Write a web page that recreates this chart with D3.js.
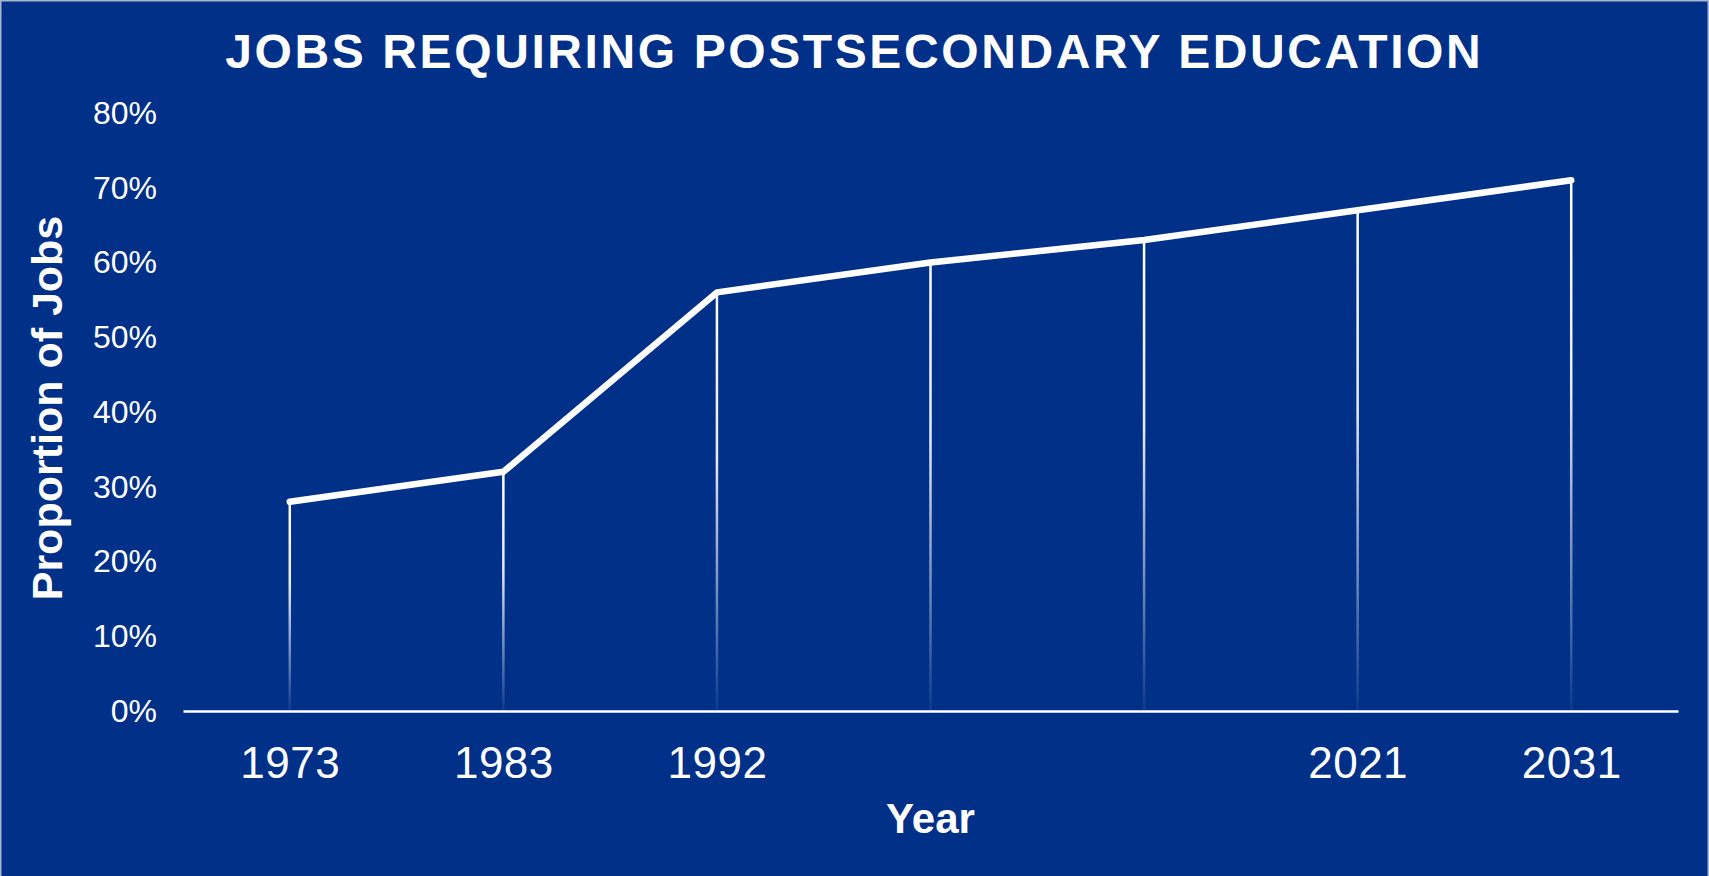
<!DOCTYPE html>
<html>
<head>
<meta charset="utf-8">
<script src="https://cdn.jsdelivr.net/npm/d3@7"></script>
<style>
  body { margin: 0; background: #003087; }
  text { font-family: "Liberation Sans", Arial, sans-serif; fill: #fff; }
</style>
</head>
<body>
<div id="chart"></div>
<script>
// Data
const years = ["1973", "1983", "1992", "2000", "2010", "2021", "2031"];
const tickLabels = ["1973", "1983", "1992", "", "", "2021", "2031"];
const shares = [0.28, 0.32, 0.56, 0.60, 0.63, 0.67, 0.71];
const yTicks = [0, 0.1, 0.2, 0.3, 0.4, 0.5, 0.6, 0.7, 0.8];

// Plot constants
const W = 1709, H = 876;
const MARGIN = {LEFT: 183, RIGHT: 31, TOP: 113, BOTTOM: 165};

const svg = d3.select("#chart")
  .append("svg")
  .attr("width", W)
  .attr("height", H);

svg.append("rect")
  .attr("width", W).attr("height", H)
  .attr("fill", "#003087");

// thin light frame (top, left, right only)
svg.append("path")
  .attr("d", "M0.75," + H + "V0.75H" + (W - 0.75) + "V" + H)
  .attr("fill", "none")
  .attr("stroke", "#aab4cc")
  .attr("stroke-width", 1.5);

// Skale
const x = d3.scalePoint()
  .domain(years)
  .range([MARGIN.LEFT, W - MARGIN.RIGHT])
  .padding(0.5);
const y = d3.scaleLinear()
  .domain([0, 0.8])
  .range([H - MARGIN.BOTTOM, MARGIN.TOP]);

// fading drop lines
const defs = svg.append("defs");
const grad = defs.append("linearGradient")
  .attr("id", "drop")
  .attr("x1", 0).attr("y1", 0).attr("x2", 0).attr("y2", 1);
grad.append("stop").attr("offset", "0%").attr("stop-color", "#fff").attr("stop-opacity", 1);
grad.append("stop").attr("offset", "40%").attr("stop-color", "#fff").attr("stop-opacity", 0.9);
grad.append("stop").attr("offset", "100%").attr("stop-color", "#fff").attr("stop-opacity", 0.05);

svg.append("g")
  .selectAll("rect")
  .data(years)
  .join("rect")
  .attr("x", (d) => x(d) - 1.25)
  .attr("y", (d, i) => y(shares[i]))
  .attr("width", 2.5)
  .attr("height", (d, i) => y(0) - y(shares[i]))
  .attr("fill", "url(#drop)");

// Y axis labels
const yAxis = svg.append("g")
  .attr("transform", "translate(157,0)")
  .call(d3.axisLeft(y).tickValues(yTicks).tickFormat(d3.format(".0%")).tickSize(0).tickPadding(0));
yAxis.select(".domain").remove();
yAxis.selectAll("text")
  .attr("fill", "#fff")
  .style("font-size", "32px")
  .style("font-family", "'Liberation Sans', Arial, sans-serif");

// X axis
const xAxis = svg.append("g")
  .attr("transform", "translate(0," + y(0) + ")")
  .call(d3.axisBottom(x).tickFormat((d, i) => tickLabels[i]).tickSize(0).tickSizeOuter(0).tickPadding(36));
xAxis.select(".domain").attr("stroke", "#fff").attr("stroke-width", 2.5);
xAxis.selectAll("text")
  .attr("fill", "#fff")
  .style("font-size", "44px")
  .style("letter-spacing", "0.5px")
  .style("font-family", "'Liberation Sans', Arial, sans-serif");

// Line
const line = d3.line()
  .x((d) => x(d))
  .y((d, i) => y(shares[i]));
svg.append("path")
  .datum(years)
  .attr("d", line)
  .attr("fill", "none")
  .attr("stroke", "#fff")
  .attr("stroke-width", 6.5)
  .attr("stroke-linecap", "round")
  .attr("stroke-linejoin", "round");

// Titles
svg.append("text")
  .attr("x", 853 + 1.3)
  .attr("y", 68)
  .attr("text-anchor", "middle")
  .style("font-size", "48px")
  .style("font-weight", "bold")
  .style("letter-spacing", "2.6px")
  .text("JOBS REQUIRING POSTSECONDARY EDUCATION");

svg.append("text")
  .attr("x", (MARGIN.LEFT + W - MARGIN.RIGHT) / 2)
  .attr("y", 833)
  .attr("text-anchor", "middle")
  .style("font-size", "42px")
  .style("font-weight", "bold")
  .text("Year");

svg.append("text")
  .attr("transform", "translate(62,408) rotate(-90)")
  .attr("text-anchor", "middle")
  .style("font-size", "43px")
  .style("font-weight", "bold")
  .text("Proportion of Jobs");
</script>
</body>
</html>
